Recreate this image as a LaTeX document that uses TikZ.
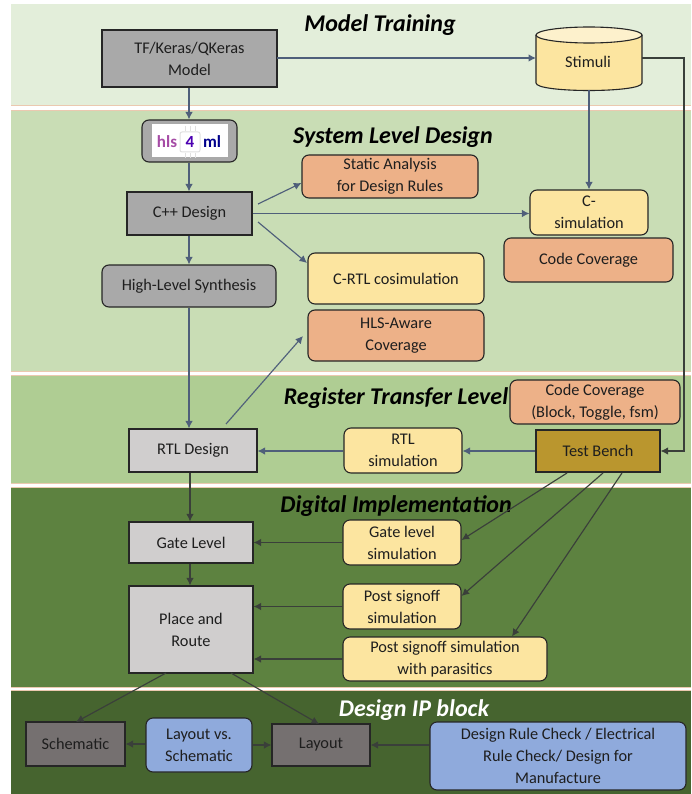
\documentclass[tikz,border=0pt]{standalone}
\usepackage{fontspec}
\setmainfont{Carlito}
\usetikzlibrary{arrows.meta}
\definecolor{bandA}{HTML}{E3EEDA}
\definecolor{bandB}{HTML}{C9DDB5}
\definecolor{bandC}{HTML}{AFCD93}
\definecolor{bandD}{HTML}{5D8240}
\definecolor{bandE}{HTML}{46642F}
\definecolor{sepline}{HTML}{EBC9B0}
\definecolor{arrowblue}{HTML}{4F5F7A}
\definecolor{arrowdark}{HTML}{3A3F3A}
\definecolor{boxgrey}{HTML}{A9A9A9}
\definecolor{lightgrey}{HTML}{D0CECE}
\definecolor{darkgrey}{HTML}{757070}
\definecolor{yel}{HTML}{FCE5A0}
\definecolor{yeltop}{HTML}{FDF1CC}
\definecolor{ora}{HTML}{EDB188}
\definecolor{blu}{HTML}{8FAADC}
\definecolor{gold}{HTML}{BA962E}
\definecolor{txt}{HTML}{1E1E1E}
\tikzset{
 x=1pt,y=-1pt,
 base/.style={draw=black!85,line width=1.1pt,align=center,text=txt,font=\fontsize{16.3}{22}\selectfont,inner sep=0pt},
 sq/.style={base,rectangle},
 rd/.style={base,rectangle,rounded corners=7pt},
 ttl/.style={font=\fontsize{24}{26}\selectfont\bfseries\itshape,text=black,inner sep=0pt},
 ab/.style={draw=arrowblue,line width=1.15pt,-{Latex[length=7.5pt,width=7.5pt]}},
 ad/.style={draw=arrowdark,line width=1.15pt,-{Latex[length=7.5pt,width=7.5pt]}},
}
\newcommand{\bx}[7]{\node[#1,fill=#2,minimum width=#5-#3 pt,minimum height=#6-#4 pt] (#7) at ({(#3+#5)/2},{(#4+#6)/2})}
\begin{document}
\begin{tikzpicture}
\useasboundingbox (0,0) rectangle (691,794);
\fill[white] (0,0) rectangle (691,794);
% bands
\fill[bandA] (11,4) rectangle (691,105);
\fill[bandB] (11,111) rectangle (691,371);
\fill[bandC] (11,376) rectangle (691,483);
\fill[bandD] (11,488) rectangle (691,687);
\fill[bandE] (11,691) rectangle (691,794);
\foreach \yy in {105.5,110,371.5,375.5,483.5,487.5,687.5,690.5}{\draw[sepline,line width=.8pt] (11,\yy) -- (691,\yy);}
% titles
\node[ttl] (t1) at (380,25) {Model Training};
\node[ttl] (t2) at (393,137) {System Level Design};
\node[ttl] (t3) at (396,398) {Register Transfer Level};
\node[ttl] (t4) at (396,506) {Digital Implementation};
\node[ttl,text=white] (t5) at (414,710) {Design IP block};
% boxes
\bx{sq}{boxgrey}{102}{30}{277}{87}{model} {TF/Keras/QKeras\\Model};
\bx{rd}{boxgrey}{142}{120}{237}{162}{hls} {};
\bx{sq}{boxgrey}{127}{192}{252}{235}{cpp} {C++ Design};
\bx{rd}{boxgrey}{102}{265}{276}{307}{hlsyn} {High-Level Synthesis};
\bx{sq}{lightgrey}{129}{429}{257}{472}{rtl} {RTL Design};
\bx{sq}{lightgrey}{129}{522}{253}{563}{gate} {Gate Level};
\bx{sq}{lightgrey}{129}{586}{253}{673}{pnr} {Place and\\Route};
\bx{sq}{darkgrey}{26}{722}{125}{766}{schem} {Schematic};
\bx{sq}{darkgrey}{272}{724}{370}{766}{layout} {Layout};
\bx{rd}{ora}{302}{155}{478}{198}{static} {Static Analysis\\for Design Rules};
\bx{rd}{yel}{530}{190}{648}{235}{csim} {C-\\simulation};
\bx{rd}{ora}{504}{238}{673}{282}{ccov} {Code Coverage};
\bx{rd}{yel}{308}{253}{484}{304}{cosim} {C-RTL cosimulation};
\bx{rd}{ora}{308}{310}{484}{361}{hlscov} {HLS-Aware\\Coverage};
\bx{rd}{ora}{510}{380}{680}{424}{cov2} {Code Coverage\\(Block, Toggle, fsm)};
\bx{sq}{gold}{536}{430}{660}{472}{tb} {Test Bench};
\bx{rd}{yel}{344}{428}{462}{473}{rtlsim} {RTL\\simulation};
\bx{rd}{yel}{343}{520}{461}{565}{gatesim} {Gate level\\simulation};
\bx{rd}{yel}{343}{584}{461}{629}{signoff} {Post signoff\\simulation};
\bx{rd}{yel}{343}{637}{547}{681}{para} {Post signoff simulation\\with parasitics};
\bx{rd}{blu}{146}{718}{252}{772}{lvs} {Layout vs.\\Schematic};
\bx{rd}{blu}{430}{722}{686}{790}{drc} {Design Rule Check / Electrical\\Rule Check/ Design for\\Manufacture};
% hls4ml logo
\node[fill=white,minimum width=76pt,minimum height=33pt,inner sep=0pt] (logo) at (189.5,141) {};
\node[draw=black!12,line width=1pt,rounded corners=2pt,minimum width=20pt,minimum height=20pt,inner sep=0pt] (chip) at (190,142) {};
\foreach \dx in {-5,0,5}{
 \draw[black!12,line width=.7pt] (190+\dx,126) -- (190+\dx,131);
 \draw[black!12,line width=.7pt] (190+\dx,153) -- (190+\dx,158);}
\node[font=\fontsize{17}{17}\selectfont\bfseries,text=violet!70!white,inner sep=0pt] (hl) at (167,142) {hls};
\node[font=\fontsize{17}{17}\selectfont\bfseries,text=blue!40!violet,inner sep=0pt] (hf) at (190,142) {4};
\node[font=\fontsize{17}{17}\selectfont\bfseries,text=blue!55!black,inner sep=0pt] (hm) at (212,142) {ml};
% stimuli cylinder
\draw[draw=black!85,line width=1.1pt,fill=yel] (536,35) -- (536,83) .. controls (536,93) and (642,93) .. (642,83) -- (642,35);
\filldraw[draw=black!85,line width=1.1pt,fill=yeltop] (589,35) ellipse[x radius=53,y radius=8];
\node[inner sep=0pt,minimum width=106pt,minimum height=63pt] (stim) at (589,58.5) {};
\node[font=\fontsize{16.3}{18}\selectfont,text=txt,inner sep=0pt] (stimlbl) at (588,62) {Stimuli};
% coordinates
\coordinate (stimR) at (642,58);
\coordinate (stimL) at (536,58);
\coordinate (stimB) at (589,90);
\coordinate (modelR) at (277,58);
\coordinate (elbowA) at (684,58);
\coordinate (elbowB) at (684,451);
% blue connectors
\draw[ab] (model.south -| 189,0) -- (hls.north -| 189,0);
\draw[ab] (hls.south -| 189,0) -- (cpp.north -| 189,0);
\draw[ab] (cpp.south -| 189,0) -- (hlsyn.north -| 189,0);
\draw[ab] (modelR) -- (stimL);
\draw[ab] (stimB) -- (csim.north -| stimB);
\draw[ab] (cpp.east) -- (csim.west |- cpp.east);
\coordinate (cppA) at (258,204);
\coordinate (cppB) at (258,222);
\draw[ab] (cppA) -- (static.west |- 0,183);
\draw[ab] (cppB) -- (307,263);
\draw[ab] (hlsyn.south -| 189,0) -- (rtl.north -| 189,0);
\coordinate (rtlUp) at (226,424);
\draw[ab] (rtlUp) -- (303,336);
\draw[ab] (tb.west |- 0,451) -- (rtlsim.east |- 0,451);
\draw[ab] (rtlsim.west |- 0,451) -- (rtl.east |- 0,451);
\draw[ad] (stimR) -- (elbowA) -- (elbowB) -- (tb.east |- 0,451);
% dark connectors
\draw[ad] (rtl.south -| 190,0) -- (gate.north -| 190,0);
\draw[ad] (gate.south -| 190,0) -- (pnr.north -| 190,0);
\coordinate (tb1) at (567,473);
\coordinate (tb2) at (603,473);
\coordinate (tb3) at (622,473);
\draw[ad] (tb1) -- (gatesim.east |- 0,540);
\draw[ad] (tb2) -- (signoff.east |- 0,596);
\draw[ad] (tb3) -- (para.north -| 512,0);
\draw[ad] (gatesim.west) -- (gate.east |- gatesim.west);
\draw[ad] (signoff.west) -- (pnr.east |- signoff.west);
\draw[ad] (para.west) -- (pnr.east |- para.west);
\coordinate (pnrA) at (166,673);
\coordinate (pnrB) at (231,673);
\draw[ad] (pnrA) -- (76,722);
\draw[ad] (pnrB) -- (319,724);
\draw[ad] (lvs.west |- schem.east) -- (schem.east);
\draw[ad] (lvs.east |- layout.west) -- (layout.west);
\draw[ad] (drc.west |- layout.east) -- (layout.east);
\end{tikzpicture}
\end{document}
